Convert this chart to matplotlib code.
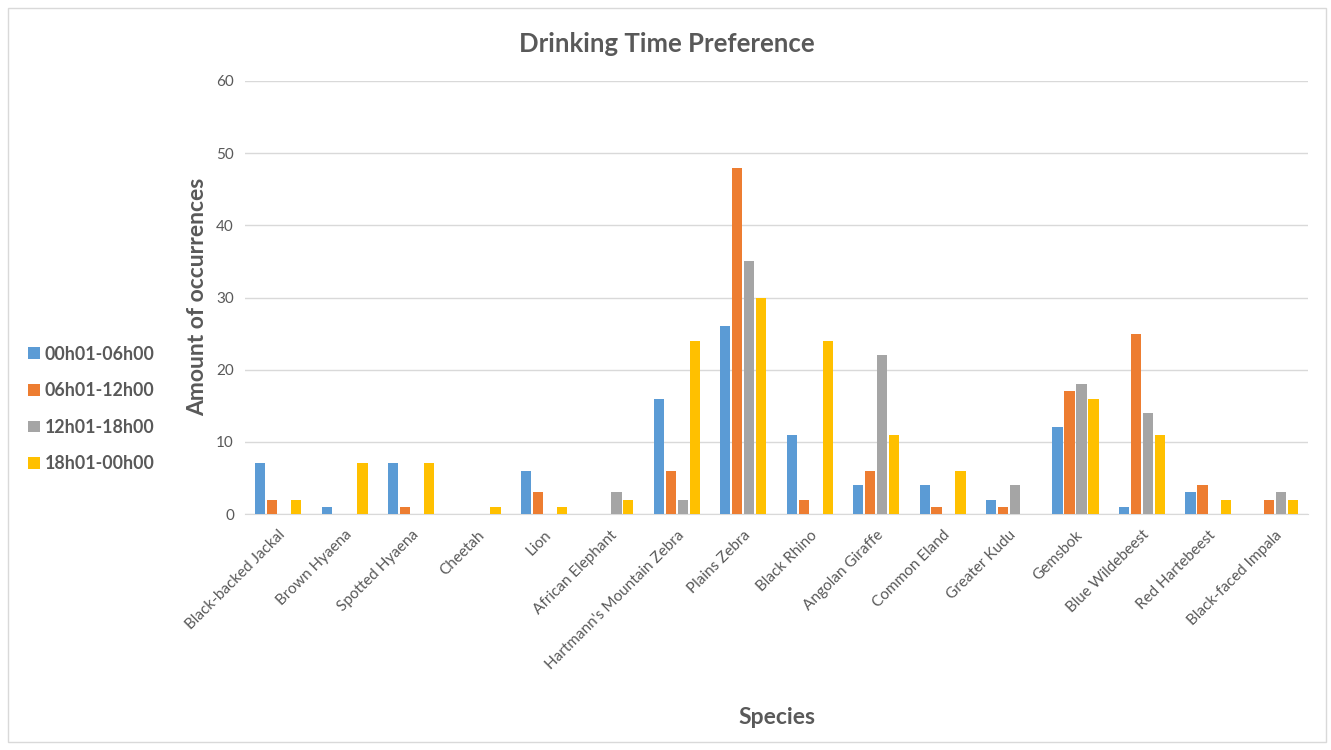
import numpy as np
import matplotlib.pyplot as plt
from matplotlib.patches import Rectangle

plt.rcParams['font.family'] = ['Lato', 'DejaVu Sans']

species = ['Black-backed Jackal', 'Brown Hyaena', 'Spotted Hyaena', 'Cheetah', 'Lion',
           'African Elephant', "Hartmann's Mountain Zebra", 'Plains Zebra', 'Black Rhino',
           'Angolan Giraffe', 'Common Eland', 'Greater Kudu', 'Gemsbok', 'Blue Wildebeest',
           'Red Hartebeest', 'Black-faced Impala']
periods = ['00h01-06h00', '06h01-12h00', '12h01-18h00', '18h01-00h00']
night = [7, 1, 7, 0, 6, 0, 16, 26, 11, 4, 4, 2, 12, 1, 3, 0]
morning = [2, 0, 1, 0, 3, 0, 6, 48, 2, 6, 1, 1, 17, 25, 4, 2]
afternoon = [0, 0, 0, 0, 0, 3, 2, 35, 0, 22, 0, 4, 18, 14, 0, 3]
evening = [2, 7, 7, 1, 1, 2, 24, 30, 24, 11, 6, 0, 16, 11, 2, 2]
colors = ['#5b9bd5', '#ed7d31', '#a5a5a5', '#ffc000']

text_col = '#595959'
fig = plt.figure(figsize=(13.31, 7.5), dpi=100)
ax = fig.add_axes([245 / 1331, 1 - 514 / 750, 1063 / 1331, 433 / 750])

x = np.arange(len(species))
step = 0.18
width = 0.155
for i, (vals, c) in enumerate(zip([night, morning, afternoon, evening], colors)):
    ax.bar(x + (i - 1.5) * step, vals, width=width, color=c, label=periods[i], zorder=3)

ax.set_xlim(-0.5, len(species) - 0.5)
ax.set_ylim(0, 60)
ax.set_yticks(range(0, 61, 10))
ax.grid(axis='y', color='#d9d9d9', linewidth=1, zorder=0)
for s in ['top', 'right', 'left']:
    ax.spines[s].set_visible(False)
ax.spines['bottom'].set_color('#d9d9d9')
ax.tick_params(axis='both', length=0, colors=text_col, labelsize=11)
ax.tick_params(axis='y', pad=8)
ax.set_xticks(x)
ax.set_xticklabels(species, rotation=45, ha='right', rotation_mode='anchor')
ax.tick_params(axis='x', pad=10)

fig.text(667 / 1331, 1 - 44 / 750, 'Drinking Time Preference', fontsize=18.5, fontweight='bold',
         color=text_col, ha='center', va='center')
fig.text(198 / 1331, 1 - 297 / 750, 'Amount of occurrences', fontsize=16.5, fontweight='bold',
         color=text_col, ha='center', va='center', rotation=90)
fig.text(777 / 1331, 1 - 718 / 750, 'Species', fontsize=16.5, fontweight='bold',
         color=text_col, ha='center', va='center')

leg = fig.legend(loc='center left', bbox_to_anchor=(12 / 1331, 1 - 409 / 750), frameon=False,
                 fontsize=12.8, handlelength=0.65, handleheight=0.65, handletextpad=0.3,
                 labelspacing=1.1, labelcolor=text_col)
for t in leg.get_texts():
    t.set_fontweight('bold')

fig.patches.append(Rectangle((8 / 1331, 8 / 750), 1318 / 1331, 734 / 750, transform=fig.transFigure,
                             fill=False, edgecolor='#d9d9d9', linewidth=1))

fig.savefig('out.png', dpi=100)
